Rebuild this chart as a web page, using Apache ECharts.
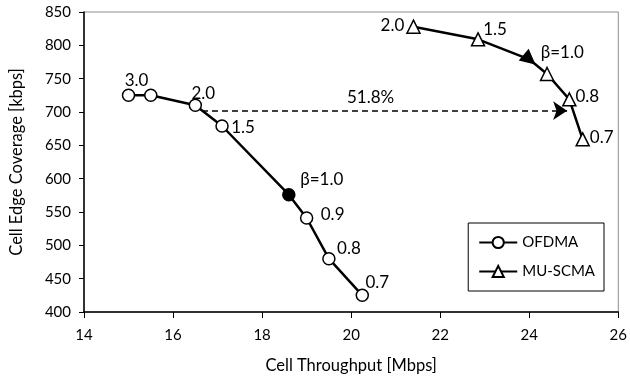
<!DOCTYPE html>
<html>
<head>
<meta charset="utf-8">
<script src="https://cdn.jsdelivr.net/npm/echarts@6/dist/echarts.min.js"></script>
<style>
  html, body { margin: 0; padding: 0; background: #fff; }
  #chart { width: 630px; height: 380px; }
</style>
</head>
<body>
<div id="chart"></div>
<script>
const ofdmaX = [15.0, 15.5, 16.5, 17.1, 18.6, 19.0, 19.5, 20.25];
const ofdmaY = [725, 725, 710, 679, 576, 541, 480, 425];
const ofdmaLabels = ["3.0", "", "2.0", "1.5", "β=1.0", "0.9", "0.8", "0.7"];

const scmaX = [21.4, 22.85, 24.0, 24.4, 24.9, 25.2];
const scmaY = [828, 809, 779, 757, 719, 659];
const scmaLabels = ["2.0", "1.5", "β=1.0", "", "0.8", "0.7"];

const gainText = "51.8%";
const gainFrom = [16.65, 702];
const gainTo = [24.85, 702];

const xTicks = [14, 16, 18, 20, 22, 24, 26];
const yTicks = [400, 450, 500, 550, 600, 650, 700, 750, 800, 850];

// label placement per point (style only)
const ofdmaLabelPos = [[8, -15], null, [8, -12], [21, 2], [33, -15], [26, -3], [20, -10], [15, -13]];
const scmaLabelPos = [[-21, -1], [17, -10], [33, -7], null, [18, -3], [19, -2]];
const ofdmaFilled = 4;
const scmaFilled = 2;

const font = "Lato, 'Open Sans', sans-serif";

function buildData(xs, ys, labels, pos, filled, isTri) {
  return xs.map((x, i) => {
    const item = { value: [x, ys[i]] };
    if (i === filled) {
      item.itemStyle = { color: "#000" };
      if (isTri) item.symbolRotate = -130;
    }
    if (labels[i]) {
      item.label = {
        show: true,
        formatter: labels[i],
        position: "inside",
        offset: pos[i],
        color: "#000",
        fontSize: 17,
        fontFamily: font
      };
    }
    return item;
  });
}

const chart = echarts.init(document.getElementById("chart"), null, { renderer: "canvas" });

chart.setOption({
  animation: false,
  backgroundColor: "#fff",
  grid: {
    left: 77, right: 10, top: 12, bottom: 68,
    show: true, borderColor: "#8c8c8c", borderWidth: 1
  },
  legend: {
    orient: "vertical",
    right: 26, top: 223,
    borderColor: "#000", borderWidth: 1,
    backgroundColor: "#fff",
    padding: [12, 9, 12, 10],
    itemGap: 14,
    itemWidth: 38, itemHeight: 14,
    textStyle: { fontSize: 15, fontFamily: font, color: "#000" },
    data: ["OFDMA", "MU-SCMA"]
  },
  xAxis: {
    type: "value",
    min: xTicks[0], max: xTicks[xTicks.length - 1], interval: 2,
    name: "Cell Throughput [Mbps]",
    nameLocation: "middle", nameGap: 45,
    nameTextStyle: { fontSize: 16.5, fontFamily: font, color: "#000" },
    axisLine: { onZero: false, lineStyle: { color: "#000", width: 1.5 } },
    axisTick: { show: true, length: 6, inside: false, lineStyle: { color: "#000" } },
    axisLabel: { fontSize: 15, fontFamily: font, color: "#000", margin: 16 },
    splitLine: { show: false }
  },
  yAxis: {
    type: "value",
    min: yTicks[0], max: yTicks[yTicks.length - 1], interval: 50,
    name: "Cell Edge Coverage [kbps]",
    nameLocation: "middle", nameGap: 59,
    nameTextStyle: { fontSize: 16.5, fontFamily: font, color: "#000" },
    axisLine: { onZero: false, lineStyle: { color: "#000", width: 1.5 } },
    axisTick: { show: true, length: 5, inside: false, lineStyle: { color: "#000" } },
    axisLabel: { fontSize: 15, fontFamily: font, color: "#000", margin: 13 },
    splitLine: { show: false }
  },
  series: [
    {
      name: "OFDMA",
      type: "line",
      data: buildData(ofdmaX, ofdmaY, ofdmaLabels, ofdmaLabelPos, ofdmaFilled, false),
      symbol: "circle",
      symbolSize: 12,
      showAllSymbol: true,
      lineStyle: { color: "#000", width: 2.5 },
      itemStyle: { color: "#fff", borderColor: "#000", borderWidth: 1.5 },
      z: 3
    },
    {
      name: "MU-SCMA",
      type: "line",
      data: buildData(scmaX, scmaY, scmaLabels, scmaLabelPos, scmaFilled, true),
      symbol: "triangle",
      symbolSize: 13,
      showAllSymbol: true,
      lineStyle: { color: "#000", width: 2.5 },
      itemStyle: { color: "#fff", borderColor: "#000", borderWidth: 1.5 },
      z: 3,
      markLine: {
        silent: true,
        symbol: ["none", "arrow"],
        symbolSize: 14,
        lineStyle: { type: [6, 4], color: "#000", width: 1.5 },
        label: {
          show: true,
          position: "middle",
          formatter: gainText,
          fontSize: 17,
          fontFamily: font,
          color: "#000",
          offset: [-14, 0]
        },
        data: [[{ coord: gainFrom }, { coord: gainTo }]]
      }
    }
  ]
});
</script>
</body>
</html>
